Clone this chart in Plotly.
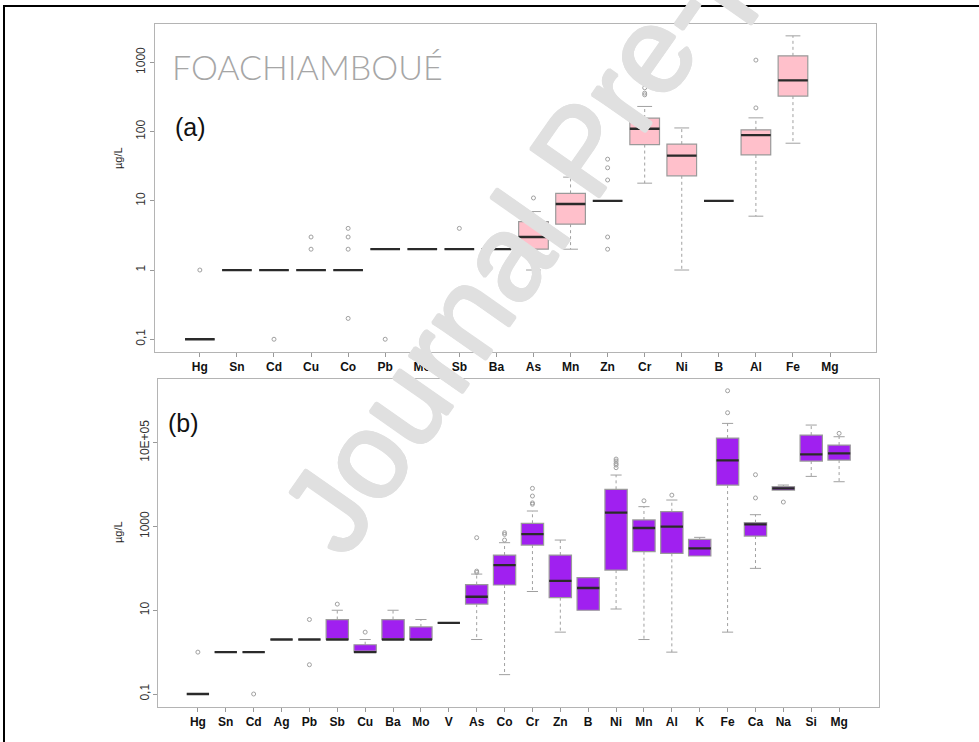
import plotly.graph_objects as go

# -------------------------------------------------------------------
# Dados (µg/L) - painel (a)
# -------------------------------------------------------------------
ELEMENTS_A = ["Hg", "Sn", "Cd", "Cu", "Co", "Pb", "Mo", "Sb", "Ba", "As",
              "Mn", "Zn", "Cr", "Ni", "B", "Al", "Fe", "Mg"]
Q1_A = [0.1, 1, 1, 1, 1, 2, 2, 2, 2, 2, 4.6, 10, 65, 23, 10, 46, 326, None]
MEDIAN_A = [0.1, 1, 1, 1, 1, 2, 2, 2, 2, 3, 9, 10, 110, 45, 10, 89, 550, None]
Q3_A = [0.1, 1, 1, 1, 1, 2, 2, 2, 2, 5, 12.8, 10, 157, 66, 10, 106, 1245, None]
LOW_A = [0.1, 1, 1, 1, 1, 2, 2, 2, 2, 1, 2, 10, 18, 1, 10, 6, 68, None]
HIGH_A = [0.1, 1, 1, 1, 1, 2, 2, 2, 2, 7, 22, 10, 231, 113, 10, 158, 2420, None]
OUTLIERS_A = {
    "Hg": [1], "Cd": [0.1], "Cu": [2, 3], "Co": [0.2, 2, 3, 4], "Pb": [0.1],
    "Sb": [4], "As": [11], "Mn": [33], "Zn": [2, 3, 20, 30, 40],
    "Cr": [340, 360, 430, 500], "Al": [220, 1080],
}

# -------------------------------------------------------------------
# Dados (µg/L) - painel (b)
# -------------------------------------------------------------------
ELEMENTS_B = ["Hg", "Sn", "Cd", "Ag", "Pb", "Sb", "Cu", "Ba", "Mo", "V", "As",
              "Co", "Cr", "Zn", "B", "Ni", "Mn", "Al", "K", "Fe", "Ca", "Na",
              "Si", "Mg"]
Q1_B = [0.1, 1, 1, 2, 2, 2, 1, 2, 2, 5, 14, 40, 360, 20, 10, 91, 250, 228,
        197, 9750, 590, 7400, 36500, 38500]
MEDIAN_B = [0.1, 1, 1, 2, 2, 2, 1, 2, 2, 5, 21, 120, 660, 50, 34, 2130, 920,
            990, 300, 37800, 1120, 8100, 52600, 55600]
Q3_B = [0.1, 1, 1, 2, 2, 6, 1.5, 6, 4, 5, 41, 208, 1190, 208, 60, 7700, 1430,
        2250, 490, 129000, 1230, 8900, 152000, 88000]
LOW_B = [0.1, 1, 1, 2, 2, 2, 1, 2, 2, 5, 2, 0.29, 28, 3, 10, 10.7, 2, 1, 197,
         3, 100, 7400, 15700, 11700]
HIGH_B = [0.1, 1, 1, 2, 2, 10, 2, 10, 6, 5, 73, 410, 2340, 474, 60, 16900,
          2970, 4280, 550, 289000, 1910, 9750, 264000, 139000]
OUTLIERS_B = {
    "Hg": [1], "Cd": [0.1], "Pb": [0.5, 6], "Sb": [14], "Cu": [3],
    "As": [80, 86, 540], "Co": [474, 648, 710], "Cr": [3400, 3650, 5330, 8130],
    "Ni": [25300, 29300, 32000, 36500, 40700], "Mn": [4100], "Al": [5600],
    "Fe": [520000, 1740000], "Ca": [4800, 17200], "Na": [3830], "Mg": [167000],
}

TICKS_A = [0.1, 1, 10, 100, 1000]
TICKTEXT_A = ["0,1", "1", "10", "100", "1000"]
TICKS_B = [0.1, 10, 1000, 100000]
TICKTEXT_B = ["0,1", "10", "1000", "10E+05"]

PINK = "#FFC0CB"
PURPLE = "#A020F0"
BOX_EDGE = "#9a9a9a"
FRAME = "#b4b4b4"
WATERMARK = "#e0e0e0"
BOX_WIDTH = 0.8
CAP_HALF = 0.2

W, H = 979, 742


def add_panel(fig, elements, q1, med, q3, low, high, outliers, fill, xref, yref):
    # posições só onde existe caixa (Mg do painel (a) fica vazio)
    idx = [i for i, v in enumerate(med) if v is not None]

    # bigodes pontilhados + travessões
    wx, wy, cx, cy = [], [], [], []
    for i in idx:
        if high[i] > q3[i]:
            wx += [i, i, None]
            wy += [q3[i], high[i], None]
            cx += [i - CAP_HALF, i + CAP_HALF, None]
            cy += [high[i], high[i], None]
        if low[i] < q1[i]:
            wx += [i, i, None]
            wy += [q1[i], low[i], None]
            cx += [i - CAP_HALF, i + CAP_HALF, None]
            cy += [low[i], low[i], None]
    fig.add_trace(go.Scatter(x=wx, y=wy, mode="lines", xaxis=xref, yaxis=yref,
                             line=dict(color="#a0a0a0", width=1, dash="dot"),
                             showlegend=False, hoverinfo="skip"))
    fig.add_trace(go.Scatter(x=cx, y=cy, mode="lines", xaxis=xref, yaxis=yref,
                             line=dict(color="#a0a0a0", width=1),
                             showlegend=False, hoverinfo="skip"))

    fig.add_trace(go.Box(
        x=idx,
        q1=[q1[i] for i in idx],
        median=[med[i] for i in idx],
        q3=[q3[i] for i in idx],
        lowerfence=[q1[i] for i in idx],
        upperfence=[q3[i] for i in idx],
        width=BOX_WIDTH,
        fillcolor=fill,
        line=dict(color=BOX_EDGE, width=1.2),
        boxpoints=False,
        xaxis=xref, yaxis=yref,
        showlegend=False, hoverinfo="skip",
    ))

    # mediana grossa escura
    mx, my = [], []
    for i in idx:
        mx += [i - BOX_WIDTH / 2, i + BOX_WIDTH / 2, None]
        my += [med[i], med[i], None]
    fig.add_trace(go.Scatter(x=mx, y=my, mode="lines", xaxis=xref, yaxis=yref,
                             line=dict(color="#2a2a2a", width=2.3),
                             showlegend=False, hoverinfo="skip"))

    ox, oy = [], []
    for name, values in outliers.items():
        pos = elements.index(name)
        ox += [pos] * len(values)
        oy += values
    fig.add_trace(go.Scatter(x=ox, y=oy, mode="markers", xaxis=xref, yaxis=yref,
                             marker=dict(symbol="circle-open", size=4,
                                         color="#a0a0a0", line=dict(width=1)),
                             showlegend=False, hoverinfo="skip"))


fig = go.Figure()
add_panel(fig, ELEMENTS_A, Q1_A, MEDIAN_A, Q3_A, LOW_A, HIGH_A, OUTLIERS_A,
          PINK, "x", "y")
add_panel(fig, ELEMENTS_B, Q1_B, MEDIAN_B, Q3_B, LOW_B, HIGH_B, OUTLIERS_B,
          PURPLE, "x2", "y2")

xtickfont = dict(family="Liberation Sans, Arial", size=12, color="#111",
                 weight="bold")
ytickfont = dict(family="Liberation Sans, Arial", size=12, color="#333")
common_axis = dict(showline=True, mirror=True, linecolor=FRAME, linewidth=1,
                   showgrid=False, zeroline=False, ticks="outside",
                   tickcolor="#999", ticklen=4)

fig.update_layout(
    width=W, height=H,
    margin=dict(l=0, r=0, t=0, b=0),
    paper_bgcolor="white", plot_bgcolor="white",
    xaxis=dict(domain=[155 / W, 876 / W], range=[-1.21, 18.24], anchor="y",
               tickvals=list(range(len(ELEMENTS_A))), ticktext=ELEMENTS_A,
               tickfont=xtickfont, **common_axis),
    yaxis=dict(domain=[1 - 351.7 / H, 1 - 24 / H], type="log",
               range=[-1.18, 3.555], anchor="x",
               tickvals=TICKS_A, ticktext=TICKTEXT_A, tickangle=-90,
               tickfont=ytickfont, **common_axis),
    xaxis2=dict(domain=[158.3 / W, 878.7 / W], range=[-1.42, 24.42],
                anchor="y2",
                tickvals=list(range(len(ELEMENTS_B))), ticktext=ELEMENTS_B,
                tickfont=xtickfont, **common_axis),
    yaxis2=dict(domain=[1 - 706.7 / H, 1 - 379 / H], type="log",
                range=[-1.303, 6.521], anchor="x2",
                tickvals=TICKS_B, ticktext=TICKTEXT_B, tickangle=-90,
                tickfont=ytickfont, **common_axis),
)

# contorno fino em volta das letras da marca d'água para engrossar o traço
thick = ", ".join(f"{dx}px {dy}px 0 {WATERMARK}" for dx, dy in
                  [(1.5, 0), (-1.5, 0), (0, 1.5), (0, -1.5),
                   (1, 1), (-1, -1), (1, -1), (-1, 1)])

annotations = [
    dict(text="FOACHIAMBOUÉ", x=170 / W, y=1 - 66 / H, xanchor="left",
         yanchor="middle", font=dict(family="Lato", size=34, color="#a6a6a6",
                                     weight=300)),
    dict(text="(a)", x=173 / W, y=1 - 127 / H, xanchor="left",
         yanchor="middle", font=dict(family="Liberation Sans, Arial", size=25,
                                     color="#111")),
    dict(text="(b)", x=166 / W, y=1 - 423 / H, xanchor="left",
         yanchor="middle", font=dict(family="Liberation Sans, Arial", size=25,
                                     color="#111")),
    dict(text="µg/L", x=118 / W, y=1 - 158 / H, textangle=-90,
         xanchor="center", yanchor="middle",
         font=dict(family="Liberation Sans, Arial", size=11, color="#222")),
    dict(text="µg/L", x=118 / W, y=1 - 532 / H, textangle=-90,
         xanchor="center", yanchor="middle",
         font=dict(family="Liberation Sans, Arial", size=11, color="#222")),
    # marca d'água (sai pela borda de cima, como no original)
    dict(text="Journal Pre-proof", x=581 / W, y=1 - 150 / H, textangle=-55,
         xanchor="center", yanchor="middle",
         font=dict(family="Liberation Sans, Arial", size=122,
                   color=WATERMARK, shadow=thick)),
]
for a in annotations:
    fig.add_annotation(xref="paper", yref="paper", showarrow=False, **a)

# moldura preta externa
fig.add_shape(type="rect", xref="paper", yref="paper",
              x0=4 / W, x1=1.02, y0=-0.02, y1=1 - 6 / H,
              line=dict(color="black", width=2))

# tira a margem padrão do <body> para a figura ocupar a janela inteira
fig.write_html("out.html", config={"displayModeBar": False},
               post_script="document.body.style.margin='0';")
